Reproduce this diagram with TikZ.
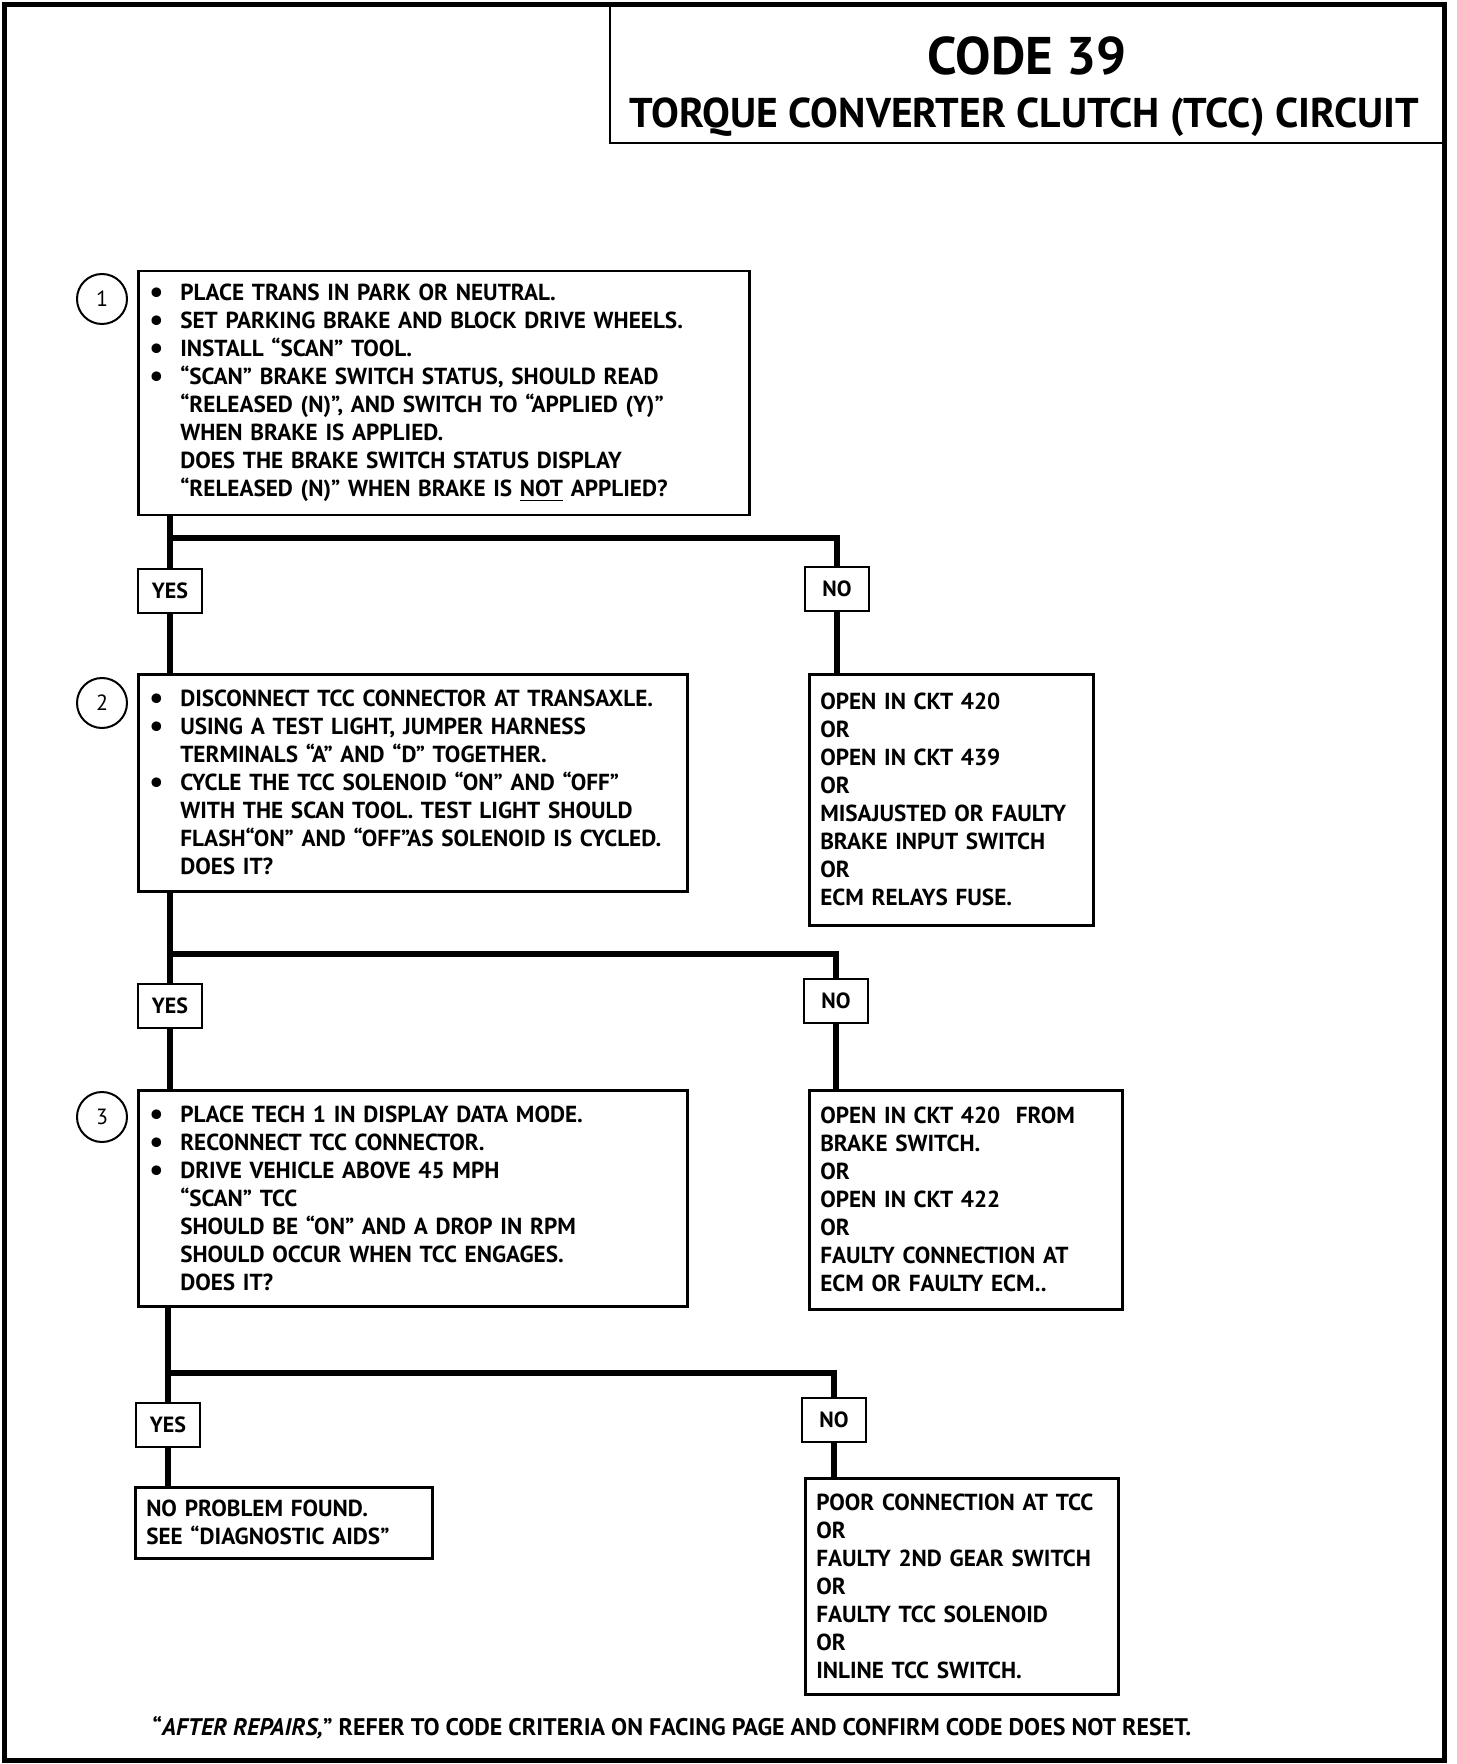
\documentclass[tikz,border=0pt]{standalone}
\usepackage{fontspec}
\usepackage{graphicx}
\setmainfont{PT Sans}
\usetikzlibrary{positioning}

\newcommand{\bul}{\makebox[15.5pt][l]{\raisebox{-0.15ex}{\scalebox{1.35}{\textbullet}}}}
\newcommand{\ind}{\hspace*{15.5pt}}

\tikzset{
  stepbox/.style={draw, line width=1.25pt, anchor=north west, align=left,
    inner xsep=5.5pt, inner ysep=0pt,
    font=\bfseries\fontsize{11.6}{14}\selectfont},
  answer/.style={draw, line width=1.1pt, minimum width=32pt, minimum height=22pt,
    inner sep=0pt, font=\bfseries\fontsize{11}{12}\selectfont},
  stepnum/.style={draw, circle, line width=1pt, minimum size=25pt, inner sep=0pt,
    font=\fontsize{11}{13}\selectfont},
  wire/.style={line width=3pt},
  branch/.style={line width=3.4pt, line join=miter}
}

\begin{document}
\begin{tikzpicture}[x=0.5pt,y=-0.5pt]
        \useasboundingbox (0,0) rectangle (1456,1764);

        % frame and title
        \draw [line width=2.5pt] (4,5) rectangle (1444,1760);
        \draw [line width=1.2pt] (610,5) -- (610,143) -- (1444,143);
        \node (title) at (1027,56) {\bfseries\fontsize{26.5}{30}\selectfont CODE 39};
        \node (subtitle) at (1024,117) {\bfseries\fontsize{20.8}{24}\selectfont TORQUE CONVERTER CLUTCH (TCC) CIRCUIT};

        % step 1
        \node [stepnum] (num1) at (102,299) {1};
        \node [stepbox, minimum width=305.5pt, minimum height=122pt, text width=294.5pt] (step1) at (137,270)
          {\bul PLACE TRANS IN PARK OR NEUTRAL.\\
           \bul SET PARKING BRAKE AND BLOCK DRIVE WHEELS.\\
           \bul INSTALL “SCAN” TOOL.\\
           \bul “SCAN” BRAKE SWITCH STATUS, SHOULD READ\\
           \ind “RELEASED (N)”,\ AND SWITCH TO “APPLIED (Y)”\\
           \ind WHEN BRAKE IS APPLIED.\\
           \ind DOES THE BRAKE SWITCH STATUS DISPLAY\\
           \ind “RELEASED (N)” WHEN BRAKE IS \underline{NOT} APPLIED?};

        \node [answer] (yes1) at (170,591) {YES};
        \node [answer] (no1) at (837,589) {NO};
        \coordinate (split1) at (170,538);

        \node [stepbox, minimum width=142pt, minimum height=125.5pt, text width=131pt] (fix1) at (808,673)
          {OPEN IN CKT 420\\ OR\\ OPEN IN CKT 439\\ OR\\ MISAJUSTED OR FAULTY\\ BRAKE INPUT SWITCH\\ OR\\ ECM RELAYS FUSE.};

        % step 2
        \node [stepnum] (num2) at (102,703) {2};
        \node [stepbox, minimum width=274.5pt, minimum height=108.5pt, text width=263.5pt] (step2) at (137,673)
          {\bul DISCONNECT TCC CONNECTOR AT TRANSAXLE.\\
           \bul USING A TEST LIGHT, JUMPER HARNESS\\
           \ind TERMINALS “A” AND “D” TOGETHER.\\
           \bul CYCLE THE TCC SOLENOID “ON” AND “OFF”\\
           \ind WITH THE SCAN TOOL.\ TEST LIGHT SHOULD\\
           \ind \mbox{FLASH“ON” AND “OFF”AS SOLENOID IS CYCLED.}\\
           \ind DOES IT?};

        \node [answer] (yes2) at (170,1006) {YES};
        \node [answer] (no2) at (836,1001) {NO};
        \coordinate (split2) at (170,954);

        \node [stepbox, minimum width=156.5pt, minimum height=109.5pt, text width=145.5pt] (fix2) at (808,1089)
          {OPEN IN CKT 420\ \ FROM\\ BRAKE SWITCH.\\ OR\\ OPEN IN CKT 422\\ OR\\ FAULTY CONNECTION AT\\ ECM OR FAULTY ECM..};

        % step 3
        \node [stepnum] (num3) at (102,1117) {3};
        \node [stepbox, minimum width=274.5pt, minimum height=108pt, text width=263.5pt] (step3) at (137,1089)
          {\bul PLACE TECH 1 IN DISPLAY DATA MODE.\\
           \bul RECONNECT TCC CONNECTOR.\\
           \bul DRIVE VEHICLE ABOVE 45 MPH\\
           \ind “SCAN” TCC\\
           \ind SHOULD BE “ON” AND A DROP IN RPM\\
           \ind SHOULD OCCUR WHEN TCC ENGAGES.\\
           \ind DOES IT?};

        \node [answer] (yes3) at (168,1425) {YES};
        \node [answer] (no3) at (834,1420) {NO};
        \coordinate (split3) at (168,1373);

        \node [stepbox, minimum width=148.5pt, minimum height=35.5pt, text width=137.5pt] (found) at (134,1486)
          {NO PROBLEM FOUND.\\ SEE “DIAGNOSTIC AIDS”};
        \node [stepbox, minimum width=156.5pt, minimum height=108pt, text width=145.5pt] (fix3) at (804,1477)
          {POOR CONNECTION AT TCC\\ OR\\ FAULTY 2ND GEAR SWITCH\\ OR\\ FAULTY TCC SOLENOID\\ OR\\ INLINE TCC SWITCH.};

        % connectors
        \draw [wire] (step1.south -| yes1) -- (yes1.north);
        \draw [wire] (yes1.south) -- (yes1.south |- step2.north);
        \draw [branch] (split1) -| (no1.north);
        \draw [wire] (no1.south) -- (no1.south |- fix1.north);

        \draw [wire] (step2.south -| yes2) -- (yes2.north);
        \draw [wire] (yes2.south) -- (yes2.south |- step3.north);
        \draw [branch] (split2) -| (no2.north);
        \draw [wire] (no2.south) -- (no2.south |- fix2.north);

        \draw [wire] (step3.south -| yes3) -- (yes3.north);
        \draw [wire] (yes3.south) -- (yes3.south |- found.north);
        \draw [branch] (split3) -| (no3.north);
        \draw [wire] (no3.south) -- (no3.south |- fix3.north);

        % footer
        \node [font=\bfseries\fontsize{12}{13}\selectfont] (footer) at (672,1728)
          {“\textit{AFTER REPAIRS,}” REFER TO CODE CRITERIA ON FACING PAGE AND CONFIRM CODE DOES NOT RESET.};

\end{tikzpicture}
\end{document}
